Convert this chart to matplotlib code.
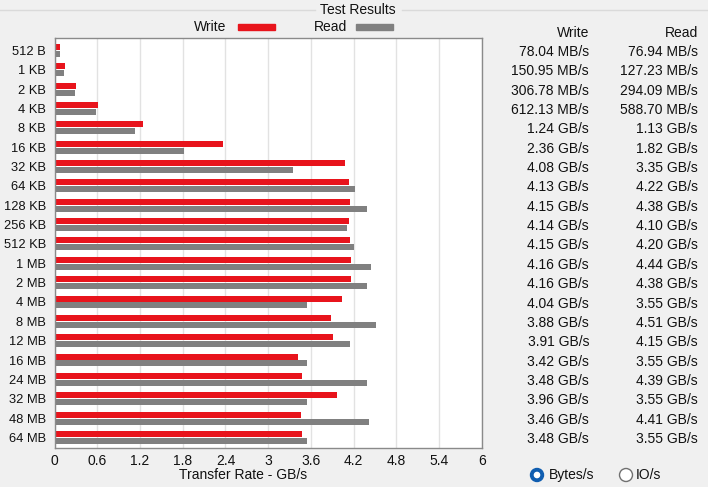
import matplotlib.pyplot as plt
import numpy as np
from matplotlib.patches import Circle, Rectangle

plt.rcParams["font.family"] = ["Liberation Sans", "DejaVu Sans"]

sizes = ["512 B", "1 KB", "2 KB", "4 KB", "8 KB", "16 KB", "32 KB", "64 KB",
         "128 KB", "256 KB", "512 KB", "1 MB", "2 MB", "4 MB", "8 MB", "12 MB",
         "16 MB", "24 MB", "32 MB", "48 MB", "64 MB"]
# GB/s
write_gbs = [0.07804, 0.15095, 0.30678, 0.61213, 1.24, 2.36, 4.08, 4.13, 4.15,
             4.14, 4.15, 4.16, 4.16, 4.04, 3.88, 3.91, 3.42, 3.48, 3.96, 3.46, 3.48]
read_gbs = [0.07694, 0.12723, 0.29409, 0.58870, 1.13, 1.82, 3.35, 4.22, 4.38,
            4.10, 4.20, 4.44, 4.38, 3.55, 4.51, 4.15, 3.55, 4.39, 3.55, 4.41, 3.55]
xticks = [0, 0.6, 1.2, 1.8, 2.4, 3, 3.6, 4.2, 4.8, 5.4, 6]

W, H = 708, 487
BG = "#f0f0f0"
RED = "#e8141c"
GRAY = "#808080"
TXT = "#111111"
FS = 10


def fx(px):
    return px / W


def fy(py):
    return 1 - py / H


def fmt(v):
    if v < 1:
        return f"{v * 1000:.2f} MB/s"
    return f"{v:.2f} GB/s"


fig = plt.figure(figsize=(W / 100, H / 100), dpi=100, facecolor=BG)

# plot area in pixels: x 54.5..482, y 38..448
ax = fig.add_axes([fx(54.5), fy(448), fx(482 - 54.5), (448 - 38) / H])
ax.set_facecolor("white")

y = np.arange(len(sizes))
ax.barh(y - 0.18, write_gbs, height=0.31, color=RED)
ax.barh(y + 0.18, read_gbs, height=0.31, color=GRAY)

ax.set_xlim(0, 6)
ax.set_ylim(20.55, -0.65)
ax.set_xticks(xticks)
ax.set_xticklabels([f"{t:g}" for t in xticks], fontsize=FS, color=TXT)
ax.set_yticks(y)
ax.set_yticklabels(sizes, fontsize=9.3, color=TXT)
ax.tick_params(length=0, pad=4)
ax.tick_params(axis="y", pad=6)
ax.grid(axis="x", color="#e2e2e2", linewidth=1)
ax.set_axisbelow(True)
for s in ax.spines.values():
    s.set_color("#8a8a8a")
    s.set_linewidth(1)

fig.text(fx(243), fy(475), "Transfer Rate - GB/s", fontsize=FS, color=TXT,
         ha="center", va="center")

# group box line and title
fig.add_artist(plt.Line2D([0, fx(315)], [fy(10), fy(10)], color="#dadada", lw=1))
fig.add_artist(plt.Line2D([fx(402), 1], [fy(10), fy(10)], color="#dadada", lw=1))
fig.text(fx(358), fy(10), "Test Results", fontsize=FS, color=TXT, ha="center", va="center")

# legend
fig.text(fx(226), fy(27), "Write", fontsize=FS, color=TXT, ha="right", va="center")
fig.add_artist(Rectangle((fx(238), fy(30)), fx(37), 6 / H, color=RED))
fig.text(fx(347), fy(27), "Read", fontsize=FS, color=TXT, ha="right", va="center")
fig.add_artist(Rectangle((fx(356), fy(30)), fx(37), 6 / H, color=GRAY))

# value table
fig.text(fx(589), fy(33), "Write", fontsize=FS, color=TXT, ha="right", va="center")
fig.text(fx(698), fy(33), "Read", fontsize=FS, color=TXT, ha="right", va="center")
for i in range(len(sizes)):
    yy = 52 + i * 19.35
    fig.text(fx(589), fy(yy), fmt(write_gbs[i]), fontsize=FS, color=TXT, ha="right", va="center")
    fig.text(fx(698), fy(yy), fmt(read_gbs[i]), fontsize=FS, color=TXT, ha="right", va="center")

# radio buttons (pixel coordinates)
rax = fig.add_axes([0, 0, 1, 1], facecolor="none")
rax.set_xlim(0, W)
rax.set_ylim(H, 0)
rax.axis("off")
rax.add_patch(Circle((537, 475), 6.5, color="#0f5db0"))
rax.add_patch(Circle((537, 475), 2.6, color="white"))
rax.text(549, 475, "Bytes/s", fontsize=FS, color=TXT, va="center")
rax.add_patch(Circle((626, 475), 6.5, facecolor="white", edgecolor="#707070", lw=1))
rax.text(636, 475, "IO/s", fontsize=FS, color=TXT, va="center")

fig.savefig("out.png", dpi=100, facecolor=BG)
